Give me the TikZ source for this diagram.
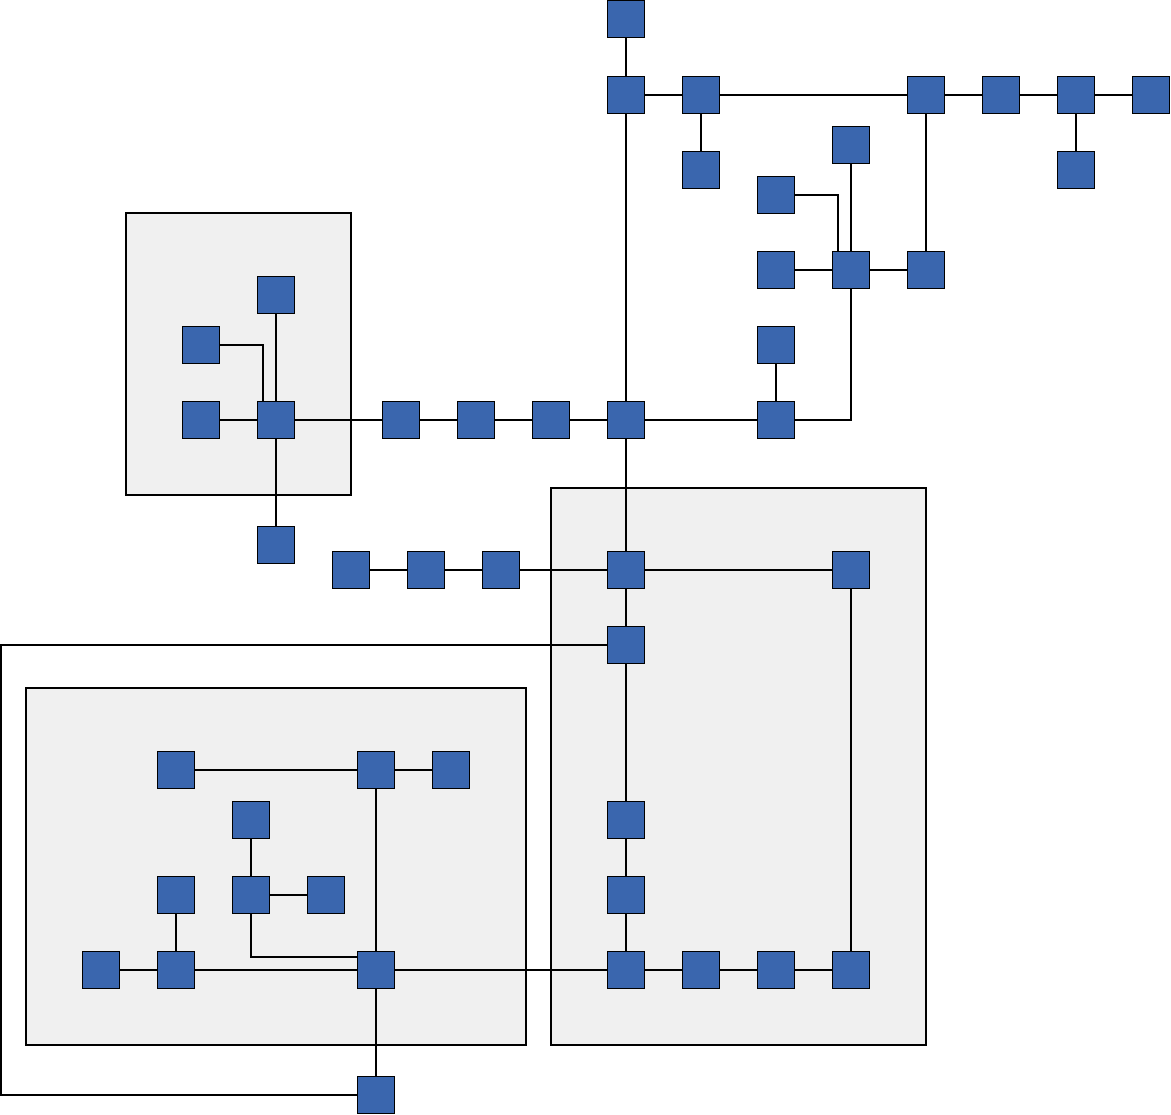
\documentclass[tikz,border=0pt]{standalone}
\usetikzlibrary{positioning, backgrounds}
\definecolor{cSq}{HTML}{3A66AE}
\definecolor{cGrp}{HTML}{F0F0F0}
\definecolor{cInk}{HTML}{000000}
\tikzset{
  sq/.style={rectangle, draw=cInk, fill=cSq, line width=0.6pt, inner sep=0pt,
             minimum width=0.74cm, minimum height=0.74cm},
  grp/.style={draw=cInk, fill=cGrp, line width=0.6pt},
  link/.style={draw=cInk, line width=0.6pt},
}
\begin{document}
\begin{tikzpicture}[x=0.02cm, y=-0.02cm]
  \useasboundingbox (0,0) rectangle (1171,1115);

  % ---- group boxes
  \draw[grp] (126,213) rectangle (351,495);
  \draw[grp] (551,488) rectangle (926,1045);
  \draw[grp] (26,688) rectangle (526,1045);

  % ---- top branch
  \node[sq] (tA) at (626,19)  {};
  \node[sq] (tB) at (626,95)  {};
  \node[sq] (tC) at (701,95)  {};
  \node[sq] (tD) at (701,170) {};
  \node[sq] (tE) at (926,95)  {};
  \node[sq] (tF) at (1001,95) {};
  \node[sq] (tG) at (1076,95) {};
  \node[sq] (tH) at (1151,95) {};
  \node[sq] (tI) at (1076,170) {};

  % ---- right cluster
  \node[sq] (rA) at (851,145) {};
  \node[sq] (rB) at (776,195) {};
  \node[sq] (rC) at (776,270) {};
  \node[sq] (rD) at (851,270) {};
  \node[sq] (rE) at (926,270) {};
  \node[sq] (rF) at (776,345) {};
  \node[sq] (rG) at (776,420) {};

  % ---- left box
  \node[sq] (lA) at (276,295) {};
  \node[sq] (lB) at (201,345) {};
  \node[sq] (lC) at (201,420) {};
  \node[sq] (lD) at (276,420) {};
  \node[sq] (lE) at (276,545) {};

  % ---- middle rows
  \node[sq] (mA) at (401,420) {};
  \node[sq] (mB) at (476,420) {};
  \node[sq] (mC) at (551,420) {};
  \node[sq] (mD) at (626,420) {};
  \node[sq] (sA) at (351,570) {};
  \node[sq] (sB) at (426,570) {};
  \node[sq] (sC) at (501,570) {};
  \node[sq] (sD) at (626,570) {};
  \node[sq] (sE) at (851,570) {};

  % ---- right box
  \node[sq] (kA) at (626,645) {};
  \node[sq] (kB) at (626,820) {};
  \node[sq] (kC) at (626,895) {};
  \node[sq] (kD) at (626,970) {};
  \node[sq] (kE) at (701,970) {};
  \node[sq] (kF) at (776,970) {};
  \node[sq] (kG) at (851,970) {};

  % ---- bottom-left box
  \node[sq] (bA) at (176,770) {};
  \node[sq] (bB) at (376,770) {};
  \node[sq] (bC) at (451,770) {};
  \node[sq] (bD) at (251,820) {};
  \node[sq] (bE) at (176,895) {};
  \node[sq] (bF) at (251,895) {};
  \node[sq] (bG) at (326,895) {};
  \node[sq] (bH) at (101,970) {};
  \node[sq] (bI) at (176,970) {};
  \node[sq] (bJ) at (376,970) {};
  \node[sq] (bK) at (376,1095) {};
  \coordinate (loop) at (1,1095);

  % ---- links, top
  \draw[link] (tA) -- (tB);
  \draw[link] (tB) -- (tC);
  \draw[link] (tC) -- (tE);
  \draw[link] (tC) -- (tD);
  \draw[link] (tE) -- (tF);
  \draw[link] (tF) -- (tG);
  \draw[link] (tG) -- (tH);
  \draw[link] (tG) -- (tI);
  \draw[link] (tE) -- (rE);
  \draw[link] (tB) -- (mD);

  % ---- links, right cluster
  \draw[link] (rA) -- (rD);
  \draw[link] (rB.east) -| ([xshift=-0.26cm]rD.north);
  \draw[link] (rC) -- (rD);
  \draw[link] (rD) -- (rE);
  \draw[link] (rD.south) |- (rG.east);
  \draw[link] (rF) -- (rG);
  \draw[link] (mD) -- (rG);

  % ---- links, left box and middle row
  \draw[link] (lA) -- (lD);
  \draw[link] (lB.east) -| ([xshift=-0.26cm]lD.north);
  \draw[link] (lC) -- (lD);
  \draw[link] (lD) -- (lE);
  \draw[link] (lD) -- (mA);
  \draw[link] (mA) -- (mB);
  \draw[link] (mB) -- (mC);
  \draw[link] (mC) -- (mD);
  \draw[link] (mD) -- (sD);

  % ---- links, second row and right box
  \draw[link] (sA) -- (sB);
  \draw[link] (sB) -- (sC);
  \draw[link] (sC) -- (sD);
  \draw[link] (sD) -- (sE);
  \draw[link] (sD) -- (kA);
  \draw[link] (kA) -- (kB);
  \draw[link] (kB) -- (kC);
  \draw[link] (kC) -- (kD);
  \draw[link] (kD) -- (kE);
  \draw[link] (kE) -- (kF);
  \draw[link] (kF) -- (kG);
  \draw[link] (sE) -- (kG);
  \draw[link] (kA.west) -| (loop) -- (bK.west);

  % ---- links, bottom-left box
  \draw[link] (bA) -- (bB);
  \draw[link] (bB) -- (bC);
  \draw[link] (bB) -- (bJ);
  \draw[link] (bD) -- (bF);
  \draw[link] (bF) -- (bG);
  \draw[link] (bF.south) |- ([yshift=0.26cm]bJ.west);
  \draw[link] (bE) -- (bI);
  \draw[link] (bH) -- (bI);
  \draw[link] (bI) -- (bJ);
  \draw[link] (bJ) -- (kD);
  \draw[link] (bJ) -- (bK);
\end{tikzpicture}
\end{document}
